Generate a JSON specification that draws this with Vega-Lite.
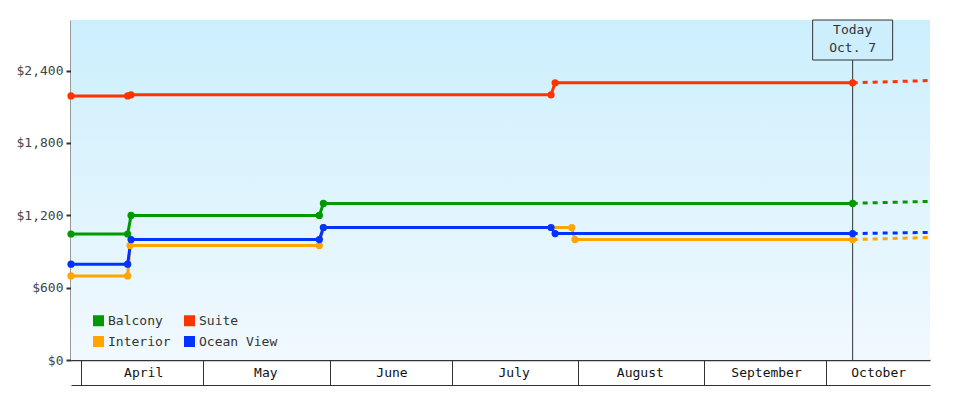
{
  "$schema": "https://vega.github.io/schema/vega-lite/v6.json",
  "autosize": {"type": "none"},
  "padding": {"left": 71, "top": 20, "right": 50, "bottom": 40},
  "width": 859,
  "height": 340,
  "background": "#ffffff",
  "config": {
    "font": "DejaVu Sans Mono",
    "view": {"stroke": null},
    "axis": {"labelFont": "DejaVu Sans Mono", "labelFontSize": 13, "grid": false, "title": null}
  },
  "datasets": {
    "hist": [
      {"date": "2012-03-29T12:00", "cabin": "Balcony", "price": 1045},
      {"date": "2012-04-12T10:00", "cabin": "Balcony", "price": 1045},
      {"date": "2012-04-13T06:00", "cabin": "Balcony", "price": 1199},
      {"date": "2012-05-29T12:00", "cabin": "Balcony", "price": 1199},
      {"date": "2012-05-30T12:00", "cabin": "Balcony", "price": 1299},
      {"date": "2012-10-07T12:00", "cabin": "Balcony", "price": 1299},
      {"date": "2012-03-29T12:00", "cabin": "Suite", "price": 2190},
      {"date": "2012-04-12T10:00", "cabin": "Suite", "price": 2190},
      {"date": "2012-04-13T06:00", "cabin": "Suite", "price": 2199},
      {"date": "2012-07-25T10:00", "cabin": "Suite", "price": 2199},
      {"date": "2012-07-26T10:00", "cabin": "Suite", "price": 2299},
      {"date": "2012-10-07T12:00", "cabin": "Suite", "price": 2299},
      {"date": "2012-03-29T12:00", "cabin": "Interior", "price": 697},
      {"date": "2012-04-12T10:00", "cabin": "Interior", "price": 697},
      {"date": "2012-04-13T00:00", "cabin": "Interior", "price": 949},
      {"date": "2012-05-29T12:00", "cabin": "Interior", "price": 949},
      {"date": "2012-05-30T12:00", "cabin": "Interior", "price": 1099},
      {"date": "2012-07-30T12:00", "cabin": "Interior", "price": 1099},
      {"date": "2012-07-31T07:00", "cabin": "Interior", "price": 999},
      {"date": "2012-10-07T12:00", "cabin": "Interior", "price": 999},
      {"date": "2012-03-29T12:00", "cabin": "Ocean View", "price": 795},
      {"date": "2012-04-12T10:00", "cabin": "Ocean View", "price": 795},
      {"date": "2012-04-13T06:00", "cabin": "Ocean View", "price": 999},
      {"date": "2012-05-29T12:00", "cabin": "Ocean View", "price": 999},
      {"date": "2012-05-30T12:00", "cabin": "Ocean View", "price": 1099},
      {"date": "2012-07-25T10:00", "cabin": "Ocean View", "price": 1099},
      {"date": "2012-07-26T10:00", "cabin": "Ocean View", "price": 1049},
      {"date": "2012-10-07T12:00", "cabin": "Ocean View", "price": 1049}
    ],
    "proj": [
      {"date": "2012-10-07T12:00", "cabin": "Balcony", "price": 1299},
      {"date": "2012-10-26T12:00", "cabin": "Balcony", "price": 1316},
      {"date": "2012-10-07T12:00", "cabin": "Suite", "price": 2299},
      {"date": "2012-10-26T12:00", "cabin": "Suite", "price": 2318},
      {"date": "2012-10-07T12:00", "cabin": "Interior", "price": 999},
      {"date": "2012-10-26T12:00", "cabin": "Interior", "price": 1016},
      {"date": "2012-10-07T12:00", "cabin": "Ocean View", "price": 1049},
      {"date": "2012-10-26T12:00", "cabin": "Ocean View", "price": 1058}
    ]
  },
  "resolve": {"axis": {"x": "independent"}},
  "layer": [
    {
      "data": {"values": [{}]},
      "mark": {
        "type": "rect",
        "color": {
          "gradient": "linear", "x1": 0, "y1": 0, "x2": 0, "y2": 1,
          "stops": [{"offset": 0, "color": "#CCEFFD"}, {"offset": 1, "color": "#F1F9FE"}]
        }
      },
      "encoding": {}
    },
    {
      "data": {"values": [{}]},
      "mark": {"type": "rule", "color": "#333333", "strokeWidth": 1},
      "encoding": {
        "x": {
          "datum": {"year": 2012, "month": 10, "date": 7, "hours": 12},
          "type": "temporal",
          "axis": {"orient": "bottom", "offset": 25, "domain": true, "ticks": false, "labels": false, "domainColor": "#333333", "domainWidth": 1, "title": null, "grid": false}
        }
      }
    },
    {
      "data": {"values": [{}]},
      "mark": {"type": "point", "shape": "M-1,0H1V1H-1Z", "size": 6400, "filled": true, "fill": "#CDEFFD", "stroke": "#333333", "strokeWidth": 1, "opacity": 1},
      "encoding": {
        "x": {"datum": {"year": 2012, "month": 10, "date": 7, "hours": 12}, "type": "temporal", "axis": null},
        "y": {"datum": 2820, "type": "quantitative"}
      }
    },
    {
      "data": {"values": [{}]},
      "mark": {"type": "text", "text": ["Today", "Oct. 7"], "baseline": "top", "align": "center", "dy": 4, "fontSize": 13, "lineHeight": 18, "font": "DejaVu Sans Mono", "color": "#333333"},
      "encoding": {
        "x": {"datum": {"year": 2012, "month": 10, "date": 7, "hours": 12}, "type": "temporal", "axis": null},
        "y": {"datum": 2820, "type": "quantitative"}
      }
    },
    {
      "data": {"name": "hist"},
      "mark": {"type": "line", "strokeWidth": 3},
      "encoding": {
        "x": {
          "field": "date", "type": "temporal",
          "scale": {"domain": [{"year": 2012, "month": 3, "date": 29, "hours": 12}, {"year": 2012, "month": 10, "date": 26, "hours": 12}], "nice": false},
          "axis": {
            "orient": "bottom",
            "values": [
              {"year": 2012, "month": 4, "date": 1},
              {"year": 2012, "month": 5, "date": 1},
              {"year": 2012, "month": 6, "date": 1},
              {"year": 2012, "month": 7, "date": 1},
              {"year": 2012, "month": 8, "date": 1},
              {"year": 2012, "month": 9, "date": 1},
              {"year": 2012, "month": 10, "date": 1}
            ],
            "format": "%B",
            "tickSize": 25, "tickWidth": 1, "tickColor": "#333333",
            "domainColor": "#333333", "domainWidth": 1.5,
            "labelPadding": -19,
            "labelColor": "#111111",
            "labelOffset": {"condition": {"test": "month(datum.value) == 9", "value": 52}, "value": 62},
            "labelFlush": false, "labelOverlap": false, "labelBound": false,
            "grid": false, "title": null
          }
        },
        "y": {
          "field": "price", "type": "quantitative",
          "scale": {"domain": [0, 2820], "nice": false},
          "axis": {
            "values": [0, 600, 1200, 1800, 2400], "format": "$,.0f",
            "tickSize": 5, "tickWidth": 2, "tickColor": "#333333",
            "domainWidth": 2, "domainColor": "#333333",
            "labelPadding": 3, "labelColor": "#444444", "grid": false, "title": null
          }
        },
        "color": {
          "field": "cabin", "type": "nominal",
          "scale": {"domain": ["Balcony", "Suite", "Interior", "Ocean View"], "range": ["#009900", "#FF3300", "#FFA500", "#0033FF"]}
        }
      }
    },
    {
      "data": {"name": "proj"},
      "mark": {"type": "line", "strokeWidth": 3, "strokeDash": [5, 5]},
      "encoding": {
        "x": {"field": "date", "type": "temporal", "axis": null},
        "y": {"field": "price", "type": "quantitative"},
        "color": {"field": "cabin", "type": "nominal"}
      }
    },
    {
      "data": {"name": "hist"},
      "mark": {"type": "circle", "size": 52, "opacity": 1},
      "encoding": {
        "x": {"field": "date", "type": "temporal", "axis": null},
        "y": {"field": "price", "type": "quantitative"},
        "color": {
          "field": "cabin", "type": "nominal",
          "legend": {
            "orient": "none", "legendX": 21, "legendY": 294, "columns": 2, "direction": "horizontal",
            "symbolType": "square", "symbolSize": 121, "symbolStrokeWidth": 0, "symbolOpacity": 1,
            "symbolFillColor": "#000000",
            "labelFont": "DejaVu Sans Mono", "labelFontSize": 13, "labelColor": "#333333", "labelOffset": 3,
            "columnPadding": 12, "rowPadding": 7, "title": null, "padding": 0,
            "encode": {"symbols": {"update": {"fill": {"scale": "color", "field": "value"}, "stroke": {"value": "transparent"}, "strokeWidth": {"value": 0}}}}
          }
        }
      }
    }
  ]
}
